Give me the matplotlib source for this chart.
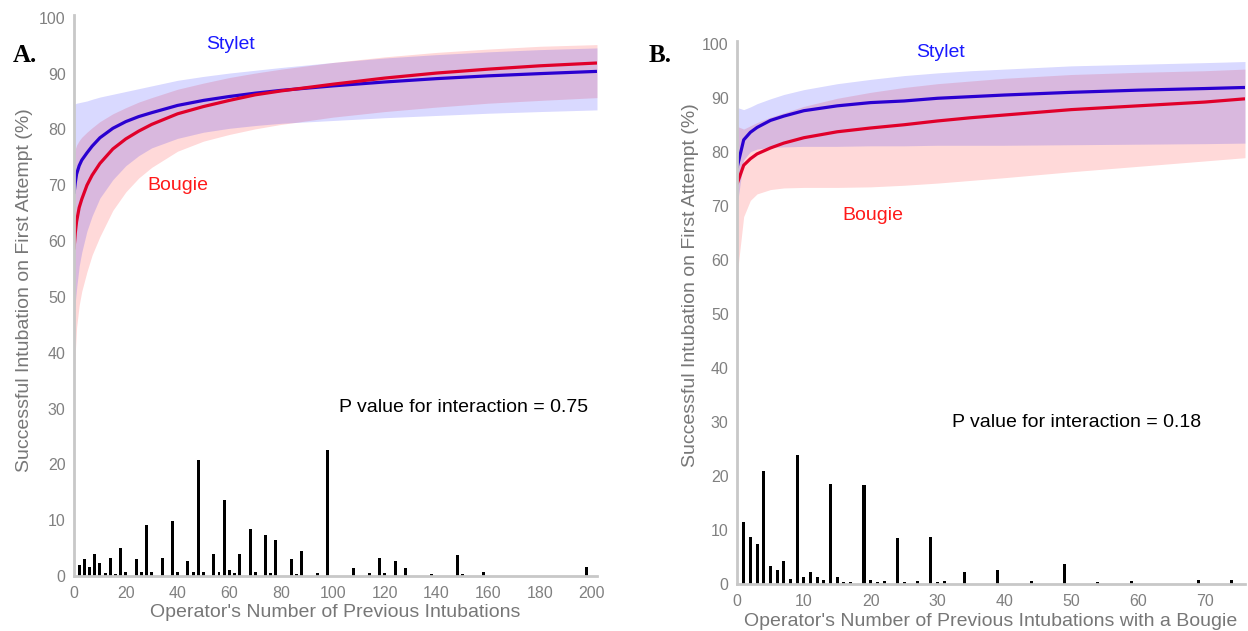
import matplotlib
matplotlib.use("Agg")
import matplotlib.pyplot as plt

plt.rcParams['font.family'] = ['Liberation Sans', 'DejaVu Sans']

# ---------------- Panel A data ----------------
a_x = [0, 0.5, 1, 2, 3, 5, 7, 10, 15, 20, 25, 30, 40, 50, 60, 70, 80, 100, 120, 140, 160, 180, 202]
a_stylet = [68.5, 70.5, 72.0, 73.5, 74.5, 75.8, 77.0, 78.5, 80.2, 81.4, 82.3, 83.0, 84.3, 85.2, 85.9, 86.5, 87.0, 87.8, 88.5, 89.1, 89.6, 90.0, 90.4]
a_stylet_hi = [84.5, 84.6, 84.7, 84.8, 84.9, 85.1, 85.4, 85.8, 86.3, 86.8, 87.3, 87.8, 88.8, 89.5, 90.1, 90.6, 91.1, 92.0, 92.8, 93.4, 93.9, 94.3, 94.6]
a_stylet_lo = [46.0, 49.0, 51.5, 55.5, 58.0, 61.8, 64.5, 67.7, 71.0, 73.5, 75.3, 76.7, 78.4, 79.5, 80.2, 80.7, 81.1, 81.6, 82.1, 82.5, 82.9, 83.2, 83.5]
a_bougie = [58.5, 61.5, 63.5, 66.0, 67.5, 70.0, 71.8, 73.9, 76.5, 78.3, 79.7, 80.9, 82.8, 84.1, 85.2, 86.2, 86.9, 88.1, 89.2, 90.1, 90.8, 91.4, 91.9]
a_bougie_hi = [75.5, 76.5, 77.2, 78.0, 78.6, 79.5, 80.3, 81.4, 82.8, 83.9, 84.9, 85.7, 87.2, 88.3, 89.3, 90.1, 90.8, 92.0, 93.0, 93.8, 94.4, 94.9, 95.2]
a_bougie_lo = [32.0, 40.0, 44.5, 48.5, 51.0, 54.5, 57.5, 60.8, 65.5, 68.8, 71.3, 73.2, 76.1, 77.9, 79.1, 80.1, 80.9, 82.2, 83.2, 84.0, 84.7, 85.2, 85.7]
a_bar_x = [2, 4, 6, 8, 10, 12, 14, 16, 18, 20, 24, 26, 28, 30, 34, 38, 40, 44, 46, 48, 50,
           54, 56, 58, 60, 62, 64, 68, 70, 74, 76, 78, 84, 86, 88, 94, 98, 108, 114, 118,
           120, 124, 128, 138, 148, 150, 158, 198]
a_bar_h = [2.0, 3.0, 1.6, 3.9, 2.3, 0.5, 3.2, 0.4, 5.0, 0.7, 3.0, 0.8, 9.1, 0.7, 3.2, 9.8, 0.8, 2.7, 0.7, 20.8, 0.8,
           3.9, 0.8, 13.6, 1.0, 0.5, 4.0, 8.4, 0.8, 7.3, 0.5, 6.5, 3.0, 0.4, 4.5, 0.5, 22.6, 1.4, 0.5, 3.2,
           0.5, 2.6, 1.4, 0.4, 3.8, 0.4, 0.8, 1.7]
a_xticks = [0, 20, 40, 60, 80, 100, 120, 140, 160, 180, 200]

# ---------------- Panel B data ----------------
b_x = [0, 1, 2, 3, 5, 7, 10, 15, 20, 25, 30, 35, 40, 50, 60, 70, 76]
b_stylet = [77.0, 82.2, 83.6, 84.5, 85.8, 86.6, 87.6, 88.5, 89.1, 89.4, 89.9, 90.2, 90.5, 91.0, 91.4, 91.7, 91.9]
b_stylet_hi = [88.2, 87.8, 88.3, 88.9, 89.8, 90.6, 91.5, 92.6, 93.4, 94.1, 94.6, 95.0, 95.3, 95.9, 96.2, 96.5, 96.7]
b_stylet_lo = [70.0, 78.5, 80.0, 80.5, 80.8, 80.9, 81.0, 81.0, 81.1, 81.1, 81.2, 81.2, 81.2, 81.3, 81.4, 81.5, 81.6]
b_bougie = [74.0, 77.5, 78.7, 79.6, 80.7, 81.6, 82.6, 83.7, 84.4, 85.0, 85.7, 86.3, 86.8, 87.8, 88.5, 89.2, 89.8]
b_bougie_hi = [84.7, 84.2, 84.8, 85.4, 86.4, 87.2, 88.4, 89.9, 91.0, 91.9, 92.6, 93.1, 93.6, 94.3, 94.7, 95.0, 95.3]
b_bougie_lo = [57.0, 68.0, 71.0, 72.2, 73.0, 73.3, 73.4, 73.4, 73.5, 73.8, 74.2, 74.7, 75.2, 76.3, 77.3, 78.3, 78.9]
b_bar_x = [1, 2, 3, 4, 5, 6, 7, 8, 9, 10, 11, 12, 13, 14, 15, 16, 17, 19, 20, 21, 22,
           24, 25, 27, 29, 30, 31, 34, 39, 44, 49, 54, 59, 69, 74]
b_bar_h = [11.4, 8.7, 7.4, 20.9, 3.3, 2.5, 4.3, 1.0, 23.8, 1.3, 2.3, 1.3, 0.7, 18.5, 1.3, 0.4, 0.4, 18.3, 0.7, 0.4, 0.5,
           8.6, 0.4, 0.5, 8.7, 0.4, 0.5, 2.2, 2.6, 0.5, 3.7, 0.4, 0.5, 0.8, 0.8]
b_xticks = [0, 10, 20, 30, 40, 50, 60, 70]

yticks = [0, 10, 20, 30, 40, 50, 60, 70, 80, 90, 100]

BLUE_LINE = '#2a00d0'
RED_LINE = '#e0002a'
BLUE_TXT = '#1a1aff'
RED_TXT = '#ff1a1a'
SPINE = '#c8c8c8'
TICK_C = '#808080'
LABEL_C = '#777777'
FS = 14

fig = plt.figure(figsize=(12.48, 6.31), dpi=100)
axA = fig.add_axes([74/1248, 1-576/631, (597-74)/1248, (576-15)/631])
axB = fig.add_axes([737/1248, 1-584/631, (1245-737)/1248, (584-41)/631])


def draw(ax, x, s, s_hi, s_lo, b, b_hi, b_lo, bx, bh, bw, xmax, xticks):
    ax.fill_between(x, b_lo, b_hi, color=(1, 0, 0), alpha=0.15, linewidth=0)
    ax.fill_between(x, s_lo, s_hi, color=(0, 0, 1), alpha=0.15, linewidth=0)
    ax.plot(x, s, color=BLUE_LINE, lw=2.3, solid_capstyle='butt')
    ax.plot(x, b, color=RED_LINE, lw=2.3, solid_capstyle='butt')
    ax.bar(bx, bh, width=bw, color='black', linewidth=0)
    ax.set_xlim(0, xmax)
    ax.set_ylim(0, 100.5)
    ax.set_xticks(xticks)
    ax.set_yticks(yticks)
    for sp in ['top', 'right']:
        ax.spines[sp].set_visible(False)
    for sp in ['left', 'bottom']:
        ax.spines[sp].set_color(SPINE)
        ax.spines[sp].set_linewidth(2)
    ax.tick_params(length=0, labelsize=11.5, colors=TICK_C)
    ax.tick_params(axis='x', pad=7)
    ax.tick_params(axis='y', pad=6)


draw(axA, a_x, a_stylet, a_stylet_hi, a_stylet_lo, a_bougie, a_bougie_hi, a_bougie_lo,
     a_bar_x, a_bar_h, 1.15, 202, a_xticks)
draw(axB, b_x, b_stylet, b_stylet_hi, b_stylet_lo, b_bougie, b_bougie_hi, b_bougie_lo,
     b_bar_x, b_bar_h, 0.45, 76, b_xticks)

# Labels
axA.set_ylabel('Successful Intubation on First Attempt (%)', fontsize=FS, color=LABEL_C)
axA.yaxis.set_label_coords(-0.078, 0.51)
axA.set_xlabel("Operator's Number of Previous Intubations", fontsize=FS, color=LABEL_C)
axA.xaxis.set_label_coords(0.5, -0.05)

axB.set_ylabel('Successful Intubation on First Attempt (%)', fontsize=FS, color=LABEL_C)
axB.yaxis.set_label_coords(-0.075, 0.55)
axB.set_xlabel("Operator's Number of Previous Intubations with a Bougie", fontsize=FS, color=LABEL_C)
axB.xaxis.set_label_coords(0.5, -0.053)

# Annotations
axA.text(60.6, 95.2, 'Stylet', color=BLUE_TXT, fontsize=FS, ha='center', va='center')
axA.text(40.0, 70.0, 'Bougie', color=RED_TXT, fontsize=FS, ha='center', va='center')
axA.text(150.6, 30.1, 'P value for interaction = 0.75', color='black', fontsize=FS, ha='center', va='center')

axB.text(30.5, 98.3, 'Stylet', color=BLUE_TXT, fontsize=FS, ha='center', va='center')
axB.text(20.3, 68.2, 'Bougie', color=RED_TXT, fontsize=FS, ha='center', va='center')
axB.text(50.8, 29.9, 'P value for interaction = 0.18', color='black', fontsize=FS, ha='center', va='center')

fig.text(25/1248, 1-55/631, 'A.', fontsize=18, fontweight='bold', family='Liberation Serif',
         ha='center', va='center')
fig.text(660/1248, 1-55/631, 'B.', fontsize=18, fontweight='bold', family='Liberation Serif',
         ha='center', va='center')

fig.savefig('out.png', dpi=100)
